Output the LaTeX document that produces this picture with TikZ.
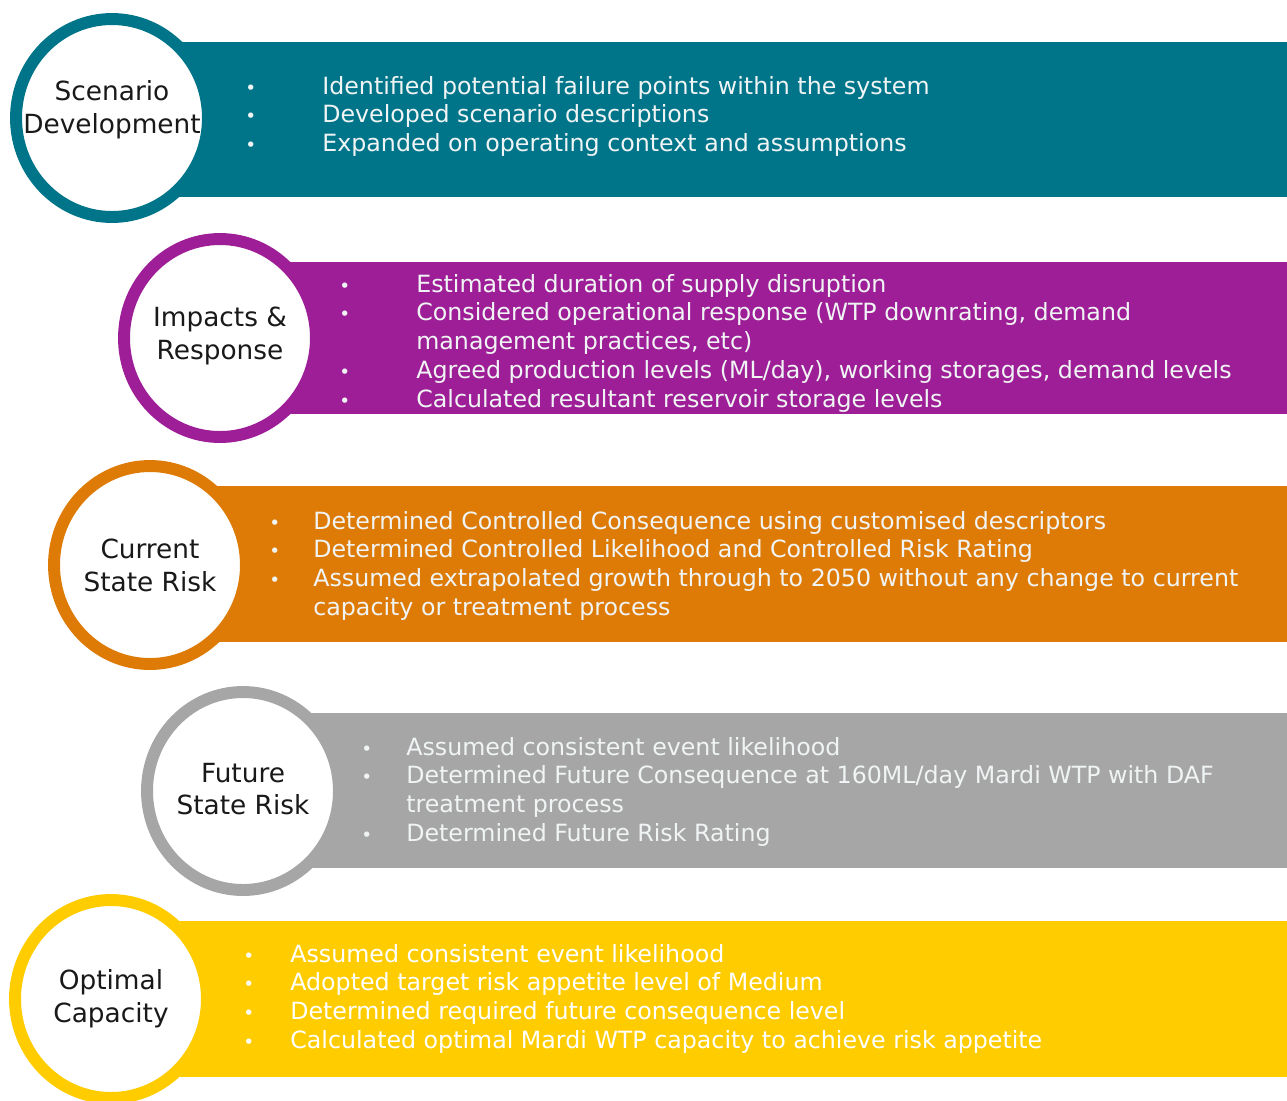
\documentclass[tikz,border=0pt]{standalone}
\usepackage{fontspec}
\setmainfont{DejaVu Sans}
\usetikzlibrary{shapes.geometric}
\definecolor{scenteal}{HTML}{00758A}
\definecolor{imppurple}{HTML}{9D1E96}
\definecolor{curorange}{HTML}{DE7B07}
\definecolor{futgray}{HTML}{A6A6A6}
\definecolor{optyellow}{HTML}{FFCC00}
\definecolor{pointtext}{HTML}{F0F4F4}
\newcommand{\pt}{{\fontsize{10.5}{10}\selectfont\textbullet}}

\begin{document}
\begin{tikzpicture}[x=0.02cm,y=-0.02cm]
\tikzstyle{stage}=[draw,shape=ellipse,fill=white,line width=6.8pt,minimum width=3.84cm,minimum height=3.96cm,inner sep=0pt];
\tikzstyle{title}=[align=center,inner sep=0pt,text=black!90,font=\fontsize{15}{18.7}\selectfont];
\tikzstyle{points}=[anchor=base west,inner sep=0pt,text=pointtext,font=\fontsize{13.5}{16.44}\selectfont];
\useasboundingbox (0,0) rectangle (1287,1100);

% scenario development
\fill[scenteal] (112,42) rectangle (1287,197);
\node[stage,draw=scenteal] (scen) at (112,118) {};
\node[title] (scentitle) at ([yshift=0.16cm]scen.center) {Scenario\\Development};
\node[points] (scenpts) at (245,94) {\begin{tabular}[t]{@{}p{1.54cm}@{}l@{}}
\pt & Identified potential failure points within the system\\
\pt & Developed scenario descriptions\\
\pt & Expanded on operating context and assumptions
\end{tabular}};

% impacts and response
\fill[imppurple] (220,262) rectangle (1287,414);
\node[stage,draw=imppurple] (imp) at (220,338) {};
\node[title] (imptitle) at ([yshift=0.04cm]imp.center) {Impacts \&\\Response};
\node[points] (imppts) at (339,292) {\begin{tabular}[t]{@{}p{1.54cm}@{}l@{}}
\pt & Estimated duration of supply disruption\\
\pt & Considered operational response (WTP downrating, demand\\
    & management practices, etc)\\
\pt & Agreed production levels (ML/day), working storages, demand levels\\
\pt & Calculated resultant reservoir storage levels
\end{tabular}};

% current state risk
\fill[curorange] (150,486) rectangle (1287,642);
\node[stage,draw=curorange] (cur) at (150,565) {};
\node[title] (curtitle) at (cur.center) {Current\\State Risk};
\node[points] (curpts) at (269,529) {\begin{tabular}[t]{@{}p{0.88cm}@{}l@{}}
\pt & Determined Controlled Consequence using customised descriptors\\
\pt & Determined Controlled Likelihood and Controlled Risk Rating\\
\pt & Assumed extrapolated growth through to 2050 without any change to current\\
    & capacity or treatment process
\end{tabular}};

% future state risk
\fill[futgray] (243,713) rectangle (1287,868);
\node[stage,draw=futgray] (fut) at (243,791) {};
\node[title] (futtitle) at ([yshift=0.04cm]fut.center) {Future\\State Risk};
\node[points] (futpts) at (361,755) {\begin{tabular}[t]{@{}p{0.9cm}@{}l@{}}
\pt & Assumed consistent event likelihood\\
\pt & Determined Future Consequence at 160ML/day Mardi WTP with DAF\\
    & treatment process\\
\pt & Determined Future Risk Rating
\end{tabular}};

% optimal capacity
\fill[optyellow] (111,921) rectangle (1287,1077);
\node[stage,draw=optyellow] (opt) at (111,999) {};
\node[title] (opttitle) at (opt.center) {Optimal\\Capacity};
\node[points,text=white] (optpts) at (243,962) {\begin{tabular}[t]{@{}p{0.94cm}@{}l@{}}
\pt & Assumed consistent event likelihood\\
\pt & Adopted target risk appetite level of Medium\\
\pt & Determined required future consequence level\\
\pt & Calculated optimal Mardi WTP capacity to achieve risk appetite
\end{tabular}};
\end{tikzpicture}
\end{document}
